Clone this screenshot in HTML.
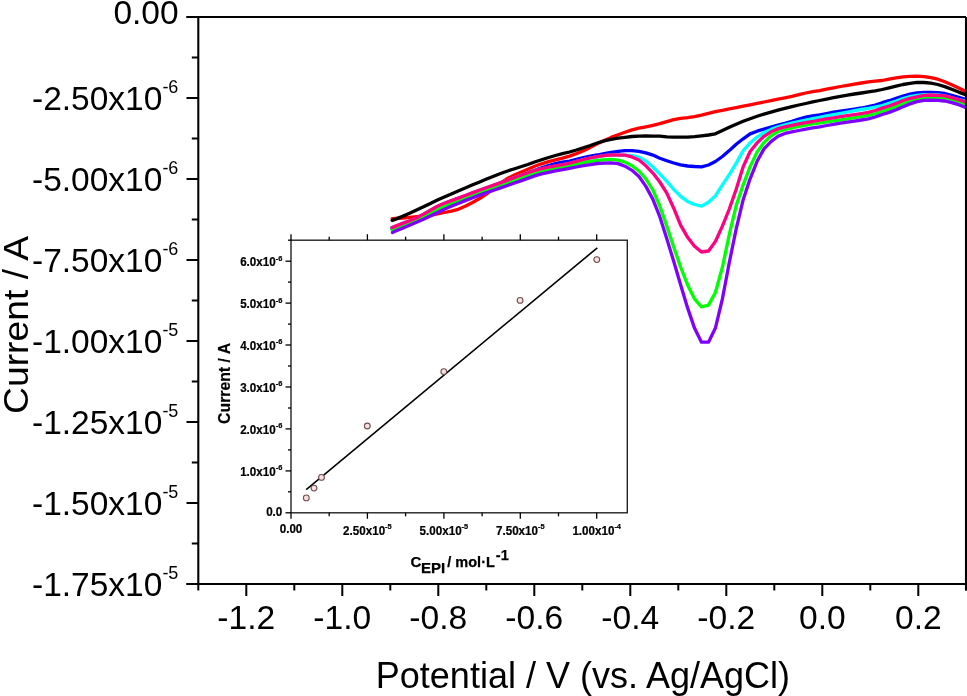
<!DOCTYPE html><html><head><meta charset="utf-8"><style>html,body{margin:0;padding:0;background:#fff;width:967px;height:696px;overflow:hidden}svg{display:block;will-change:transform}text{font-family:"Liberation Sans",sans-serif}</style></head><body>
<svg width="967" height="696" viewBox="0 0 967 696">
<rect width="967" height="696" fill="#fff"/>
<defs><clipPath id="pc"><rect x="198" y="17" width="768" height="567"/></clipPath></defs>
<g clip-path="url(#pc)" fill="none" stroke-width="3.3" stroke-linejoin="round" stroke-linecap="round">
<polyline points="392.2,218.7 395.7,218.5 402.6,218.0 409.6,217.3 416.6,216.7 423.5,216.2 430.4,215.3 437.4,213.8 444.3,212.5 451.3,211.2 458.2,209.3 465.2,206.3 472.1,202.8 479.1,198.8 486.0,194.4 493.0,189.2 499.9,183.6 506.9,178.8 513.9,175.2 520.8,172.2 527.8,169.2 534.7,166.3 541.6,163.8 548.6,161.7 555.5,159.9 562.5,158.1 569.5,156.1 576.4,153.6 583.4,150.8 590.3,147.4 597.2,143.7 604.2,140.4 611.1,137.4 618.1,134.8 625.0,132.3 632.0,129.9 639.0,128.2 645.9,126.8 652.9,125.3 659.8,123.7 666.8,121.7 673.7,119.7 680.6,118.3 687.6,117.6 694.5,116.7 701.5,115.1 708.5,113.3 715.4,111.7 722.4,110.3 729.3,108.9 736.2,107.6 743.2,106.2 750.1,104.8 757.1,103.4 764.0,102.0 771.0,100.6 778.0,99.2 784.9,97.8 791.9,96.3 798.8,94.6 805.8,93.0 812.7,91.7 819.6,90.6 826.6,89.2 833.5,87.8 840.5,86.5 847.5,85.3 854.4,84.1 861.4,83.0 868.3,81.9 875.2,81.2 882.2,80.5 889.1,79.1 896.1,77.9 903.0,76.8 910.0,76.4 917.0,76.2 923.9,76.7 930.9,77.7 937.8,79.2 944.8,81.7 951.7,84.7 958.7,88.0 965.6,91.5 968.0,92.8" stroke="#ff0000"/>
<polyline points="392.2,220.4 395.7,219.1 402.6,216.3 409.6,213.2 416.6,210.0 423.5,206.8 430.4,203.4 437.4,200.0 444.3,196.9 451.3,193.9 458.2,191.0 465.2,188.1 472.1,185.1 479.1,182.2 486.0,179.3 493.0,176.4 499.9,173.7 506.9,171.2 513.9,169.0 520.8,166.8 527.8,164.5 534.7,162.0 541.6,159.7 548.6,157.5 555.5,155.5 562.5,153.7 569.5,152.0 576.4,150.0 583.4,147.8 590.3,145.5 597.2,143.0 604.2,140.9 611.1,139.3 618.1,138.2 625.0,137.3 632.0,136.5 639.0,136.1 645.9,136.0 652.9,136.1 659.8,136.2 666.8,136.8 673.7,137.1 680.6,137.2 687.6,137.1 694.5,136.7 701.5,135.8 708.5,135.0 715.4,133.8 722.4,130.6 729.3,127.3 736.2,124.2 743.2,121.3 750.1,118.7 757.1,116.3 764.0,114.1 771.0,112.1 778.0,110.2 784.9,108.4 791.9,106.7 798.8,105.0 805.8,103.5 812.7,101.9 819.6,100.5 826.6,99.1 833.5,97.7 840.5,96.4 847.5,95.2 854.4,94.0 861.4,93.0 868.3,91.9 875.2,90.8 882.2,89.5 889.1,87.9 896.1,86.2 903.0,84.5 910.0,83.3 917.0,82.4 923.9,82.5 930.9,83.2 937.8,84.5 944.8,86.6 951.7,89.2 958.7,92.1 965.6,94.7 968.0,95.6" stroke="#000000"/>
<polyline points="391.9,228.1 395.7,226.6 402.6,223.9 409.6,221.2 416.6,218.2 423.5,214.6 430.4,210.7 437.4,206.8 444.3,203.7 451.3,201.1 458.2,198.6 465.2,196.0 472.1,193.4 479.1,190.8 486.0,188.3 493.0,185.9 499.9,183.4 506.9,180.9 513.9,178.3 520.8,175.7 527.8,173.0 534.7,170.2 541.6,167.8 548.6,165.6 555.5,163.7 562.5,162.2 569.5,161.1 576.4,159.4 583.4,157.6 590.3,156.2 597.2,155.0 604.2,153.6 611.1,152.3 618.1,151.4 625.0,150.7 632.0,150.7 639.0,151.4 645.9,152.9 652.9,155.1 659.8,158.2 666.8,160.7 673.7,163.0 680.6,164.8 687.6,166.0 694.5,166.5 701.5,166.8 708.5,165.0 715.4,161.5 722.4,156.5 729.3,150.6 736.2,144.2 743.2,138.8 750.1,133.9 757.1,131.2 764.0,129.1 771.0,127.1 778.0,125.2 784.9,123.4 791.9,121.4 798.8,119.0 805.8,117.2 812.7,115.8 819.6,114.8 826.6,113.5 833.5,112.2 840.5,111.1 847.5,110.1 854.4,109.1 861.4,108.0 868.3,106.7 875.2,105.0 882.2,102.7 889.1,100.7 896.1,98.4 903.0,96.0 910.0,94.2 917.0,92.8 923.9,92.3 930.9,92.3 937.8,92.7 944.8,93.5 951.7,95.4 958.7,97.4 965.6,99.3 968.0,100.0" stroke="#0000ff"/>
<polyline points="391.9,227.8 395.7,226.3 402.6,223.6 409.6,220.9 416.6,217.9 423.5,214.3 430.4,210.4 437.4,206.5 444.3,203.4 451.3,200.8 458.2,198.3 465.2,195.7 472.1,193.1 479.1,190.5 486.0,188.0 493.0,185.6 499.9,183.1 506.9,180.6 513.9,177.9 520.8,175.4 527.8,173.0 534.7,170.7 541.6,168.8 548.6,167.3 555.5,166.0 562.5,164.8 569.5,163.3 576.4,161.5 583.4,159.7 590.3,158.1 597.2,156.8 604.2,155.7 611.1,155.2 618.1,155.2 625.0,155.2 632.0,155.7 639.0,157.1 645.9,161.0 652.9,167.0 659.8,173.9 666.8,181.4 673.7,189.3 680.6,196.3 687.6,201.4 694.5,204.5 701.5,206.1 708.5,202.3 715.4,195.9 722.4,184.9 729.3,174.6 736.2,163.1 743.2,150.6 750.1,142.9 757.1,137.1 764.0,132.4 771.0,129.4 778.0,126.9 784.9,124.9 791.9,123.1 798.8,121.5 805.8,120.0 812.7,118.6 819.6,117.3 826.6,115.9 833.5,114.6 840.5,113.3 847.5,112.0 854.4,110.7 861.4,109.5 868.3,108.4 875.2,107.0 882.2,105.5 889.1,103.4 896.1,101.1 903.0,98.6 910.0,96.7 917.0,95.3 923.9,94.7 930.9,94.7 937.8,95.0 944.8,95.8 951.7,97.8 958.7,99.6 965.6,101.2 968.0,101.8" stroke="#00ffff"/>
<polyline points="391.9,229.9 395.7,228.2 402.6,225.3 409.6,222.3 416.6,219.6 423.5,216.7 430.4,213.2 437.4,209.4 444.3,206.2 451.3,203.4 458.2,200.7 465.2,198.1 472.1,195.5 479.1,192.9 486.0,190.4 493.0,188.0 499.9,185.5 506.9,183.1 513.9,180.7 520.8,178.3 527.8,175.8 534.7,173.3 541.6,171.3 548.6,169.7 555.5,168.3 562.5,167.0 569.5,165.6 576.4,164.1 583.4,162.6 590.3,161.4 597.2,160.5 604.2,159.8 611.1,159.4 618.1,160.1 625.0,162.1 632.0,165.7 639.0,171.0 645.9,178.8 652.9,190.0 659.8,206.0 666.8,226.1 673.7,246.9 680.6,267.0 687.6,284.9 694.5,298.8 701.5,306.8 708.5,305.1 715.4,292.5 722.4,267.3 729.3,234.3 736.2,205.6 743.2,184.8 750.1,166.6 757.1,152.0 764.0,142.6 771.0,135.8 778.0,131.5 784.9,129.4 791.9,127.8 798.8,126.4 805.8,125.1 812.7,123.9 819.6,122.9 826.6,121.8 833.5,120.8 840.5,119.8 847.5,118.8 854.4,117.7 861.4,116.6 868.3,115.4 875.2,113.6 882.2,111.1 889.1,109.0 896.1,106.4 903.0,103.2 910.0,100.8 917.0,99.0 923.9,97.6 930.9,97.4 937.8,97.7 944.8,98.4 951.7,99.9 958.7,101.7 965.6,104.1 968.0,105.0" stroke="#00ff00"/>
<polyline points="391.9,227.6 395.7,226.1 402.6,223.4 409.6,220.7 416.6,217.7 423.5,214.1 430.4,210.2 437.4,206.3 444.3,203.2 451.3,200.6 458.2,198.1 465.2,195.5 472.1,192.9 479.1,190.3 486.0,187.8 493.0,185.4 499.9,182.9 506.9,180.4 513.9,177.7 520.8,175.2 527.8,172.8 534.7,170.5 541.6,168.6 548.6,167.1 555.5,165.8 562.5,164.6 569.5,163.1 576.4,161.3 583.4,159.5 590.3,157.9 597.2,156.6 604.2,155.5 611.1,155.0 618.1,155.0 625.0,155.2 632.0,156.9 639.0,160.1 645.9,165.8 652.9,173.1 659.8,182.0 666.8,193.1 673.7,208.2 680.6,225.2 687.6,237.3 694.5,246.3 701.5,252.0 708.5,251.0 715.4,241.5 722.4,226.1 729.3,209.0 736.2,189.2 743.2,166.8 750.1,151.5 757.1,142.9 764.0,136.3 771.0,131.8 778.0,128.7 784.9,126.9 791.9,125.4 798.8,123.9 805.8,122.7 812.7,121.5 819.6,120.1 826.6,118.9 833.5,117.8 840.5,116.7 847.5,115.7 854.4,114.7 861.4,113.6 868.3,112.4 875.2,110.5 882.2,108.1 889.1,106.0 896.1,103.4 903.0,100.5 910.0,98.4 917.0,96.9 923.9,95.3 930.9,95.0 937.8,95.3 944.8,95.9 951.7,97.7 958.7,99.6 965.6,101.9 968.0,102.8" stroke="#ff0080"/>
<polyline points="392.5,232.5 395.7,231.1 402.6,228.2 409.6,225.2 416.6,222.2 423.5,219.2 430.4,215.9 437.4,212.4 444.3,209.2 451.3,206.3 458.2,203.4 465.2,200.6 472.1,198.0 479.1,195.4 486.0,192.9 493.0,190.5 499.9,188.1 506.9,185.7 513.9,183.3 520.8,180.9 527.8,178.4 534.7,175.9 541.6,173.9 548.6,172.3 555.5,170.9 562.5,169.6 569.5,168.3 576.4,167.0 583.4,165.7 590.3,164.6 597.2,163.5 604.2,163.1 611.1,162.9 618.1,163.6 625.0,166.2 632.0,170.3 639.0,176.5 645.9,186.4 652.9,199.4 659.8,216.7 666.8,238.7 673.7,261.3 680.6,284.8 687.6,307.9 694.5,328.1 701.5,342.2 708.5,342.2 715.4,328.1 722.4,298.9 729.3,262.5 736.2,228.9 743.2,199.7 750.1,178.8 757.1,161.3 764.0,148.9 771.0,141.6 778.0,136.3 784.9,133.4 791.9,131.9 798.8,130.5 805.8,129.1 812.7,127.9 819.6,126.8 826.6,125.5 833.5,124.3 840.5,123.2 847.5,122.2 854.4,121.1 861.4,120.0 868.3,118.8 875.2,117.0 882.2,114.5 889.1,112.4 896.1,109.8 903.0,106.7 910.0,103.9 917.0,101.6 923.9,100.4 930.9,100.2 937.8,100.4 944.8,101.0 951.7,102.6 958.7,104.7 965.6,107.4 968.0,108.5" stroke="#8000ff"/>
</g>
<path d="M186.5,17 H966 M198.3,17 V584 M186.5,584 H966 M966,17 V590.5" stroke="#000" stroke-width="2.1" fill="none"/>
<line x1="186.5" y1="17.0" x2="198.3" y2="17.0" stroke="#000" stroke-width="2"/>
<line x1="191.8" y1="57.5" x2="198.3" y2="57.5" stroke="#000" stroke-width="2"/>
<line x1="186.5" y1="98.0" x2="198.3" y2="98.0" stroke="#000" stroke-width="2"/>
<line x1="191.8" y1="138.5" x2="198.3" y2="138.5" stroke="#000" stroke-width="2"/>
<line x1="186.5" y1="179.0" x2="198.3" y2="179.0" stroke="#000" stroke-width="2"/>
<line x1="191.8" y1="219.5" x2="198.3" y2="219.5" stroke="#000" stroke-width="2"/>
<line x1="186.5" y1="260.0" x2="198.3" y2="260.0" stroke="#000" stroke-width="2"/>
<line x1="191.8" y1="300.5" x2="198.3" y2="300.5" stroke="#000" stroke-width="2"/>
<line x1="186.5" y1="341.0" x2="198.3" y2="341.0" stroke="#000" stroke-width="2"/>
<line x1="191.8" y1="381.5" x2="198.3" y2="381.5" stroke="#000" stroke-width="2"/>
<line x1="186.5" y1="422.0" x2="198.3" y2="422.0" stroke="#000" stroke-width="2"/>
<line x1="191.8" y1="462.5" x2="198.3" y2="462.5" stroke="#000" stroke-width="2"/>
<line x1="186.5" y1="503.0" x2="198.3" y2="503.0" stroke="#000" stroke-width="2"/>
<line x1="191.8" y1="543.5" x2="198.3" y2="543.5" stroke="#000" stroke-width="2"/>
<line x1="186.5" y1="584.0" x2="198.3" y2="584.0" stroke="#000" stroke-width="2"/>
<line x1="198.3" y1="584" x2="198.3" y2="590.5" stroke="#000" stroke-width="2"/>
<line x1="246.3" y1="584" x2="246.3" y2="596.0" stroke="#000" stroke-width="2"/>
<line x1="294.3" y1="584" x2="294.3" y2="590.5" stroke="#000" stroke-width="2"/>
<line x1="342.3" y1="584" x2="342.3" y2="596.0" stroke="#000" stroke-width="2"/>
<line x1="390.3" y1="584" x2="390.3" y2="590.5" stroke="#000" stroke-width="2"/>
<line x1="438.3" y1="584" x2="438.3" y2="596.0" stroke="#000" stroke-width="2"/>
<line x1="486.3" y1="584" x2="486.3" y2="590.5" stroke="#000" stroke-width="2"/>
<line x1="534.3" y1="584" x2="534.3" y2="596.0" stroke="#000" stroke-width="2"/>
<line x1="582.3" y1="584" x2="582.3" y2="590.5" stroke="#000" stroke-width="2"/>
<line x1="630.3" y1="584" x2="630.3" y2="596.0" stroke="#000" stroke-width="2"/>
<line x1="678.3" y1="584" x2="678.3" y2="590.5" stroke="#000" stroke-width="2"/>
<line x1="726.3" y1="584" x2="726.3" y2="596.0" stroke="#000" stroke-width="2"/>
<line x1="774.3" y1="584" x2="774.3" y2="590.5" stroke="#000" stroke-width="2"/>
<line x1="822.3" y1="584" x2="822.3" y2="596.0" stroke="#000" stroke-width="2"/>
<line x1="870.3" y1="584" x2="870.3" y2="590.5" stroke="#000" stroke-width="2"/>
<line x1="918.3" y1="584" x2="918.3" y2="596.0" stroke="#000" stroke-width="2"/>
<line x1="966.3" y1="584" x2="966.3" y2="590.5" stroke="#000" stroke-width="2"/>
<text x="246.3" y="629" font-size="33.6" text-anchor="middle">-1.2</text>
<text x="342.3" y="629" font-size="33.6" text-anchor="middle">-1.0</text>
<text x="438.3" y="629" font-size="33.6" text-anchor="middle">-0.8</text>
<text x="534.3" y="629" font-size="33.6" text-anchor="middle">-0.6</text>
<text x="630.3" y="629" font-size="33.6" text-anchor="middle">-0.4</text>
<text x="726.3" y="629" font-size="33.6" text-anchor="middle">-0.2</text>
<text x="822.3" y="629" font-size="33.6" text-anchor="middle">0.0</text>
<text x="918.3" y="629" font-size="33.6" text-anchor="middle">0.2</text>
<text x="178.6" y="23.6" font-size="33.5" text-anchor="end">0.00</text>
<text x="178.4" y="110.0" font-size="33.5" text-anchor="end">-2.50x10<tspan font-size="18" dy="-17">-6</tspan></text>
<text x="178.4" y="191.0" font-size="33.5" text-anchor="end">-5.00x10<tspan font-size="18" dy="-17">-6</tspan></text>
<text x="178.4" y="272.0" font-size="33.5" text-anchor="end">-7.50x10<tspan font-size="18" dy="-17">-6</tspan></text>
<text x="178.4" y="353.0" font-size="33.5" text-anchor="end">-1.00x10<tspan font-size="18" dy="-17">-5</tspan></text>
<text x="178.4" y="434.0" font-size="33.5" text-anchor="end">-1.25x10<tspan font-size="18" dy="-17">-5</tspan></text>
<text x="178.4" y="515.0" font-size="33.5" text-anchor="end">-1.50x10<tspan font-size="18" dy="-17">-5</tspan></text>
<text x="178.4" y="596.0" font-size="33.5" text-anchor="end">-1.75x10<tspan font-size="18" dy="-17">-5</tspan></text>
<text x="582.9" y="687.5" font-size="36" text-anchor="middle">Potential / V (vs. Ag/AgCl)</text>
<text transform="translate(27.5,324.9) rotate(-90) scale(1.035,1)" font-size="36" text-anchor="middle">Current / A</text>
<rect x="291.0" y="240.2" width="336.3" height="272.6" fill="#fff" stroke="#222" stroke-width="1.4"/>
<line x1="285.5" y1="512.8" x2="291.0" y2="512.8" stroke="#000" stroke-width="1.3"/>
<line x1="288.0" y1="491.8" x2="291.0" y2="491.8" stroke="#000" stroke-width="1.3"/>
<line x1="285.5" y1="470.9" x2="291.0" y2="470.9" stroke="#000" stroke-width="1.3"/>
<line x1="288.0" y1="449.9" x2="291.0" y2="449.9" stroke="#000" stroke-width="1.3"/>
<line x1="285.5" y1="428.9" x2="291.0" y2="428.9" stroke="#000" stroke-width="1.3"/>
<line x1="288.0" y1="408.0" x2="291.0" y2="408.0" stroke="#000" stroke-width="1.3"/>
<line x1="285.5" y1="387.0" x2="291.0" y2="387.0" stroke="#000" stroke-width="1.3"/>
<line x1="288.0" y1="366.0" x2="291.0" y2="366.0" stroke="#000" stroke-width="1.3"/>
<line x1="285.5" y1="345.0" x2="291.0" y2="345.0" stroke="#000" stroke-width="1.3"/>
<line x1="288.0" y1="324.1" x2="291.0" y2="324.1" stroke="#000" stroke-width="1.3"/>
<line x1="285.5" y1="303.1" x2="291.0" y2="303.1" stroke="#000" stroke-width="1.3"/>
<line x1="288.0" y1="282.1" x2="291.0" y2="282.1" stroke="#000" stroke-width="1.3"/>
<line x1="285.5" y1="261.2" x2="291.0" y2="261.2" stroke="#000" stroke-width="1.3"/>
<line x1="288.0" y1="240.2" x2="291.0" y2="240.2" stroke="#000" stroke-width="1.3"/>
<line x1="291.0" y1="512.8" x2="291.0" y2="518.8" stroke="#000" stroke-width="1.3"/>
<line x1="291.0" y1="240.2" x2="291.0" y2="234.2" stroke="#000" stroke-width="1.3"/>
<line x1="329.2" y1="512.8" x2="329.2" y2="516.3" stroke="#000" stroke-width="1.3"/>
<line x1="329.2" y1="240.2" x2="329.2" y2="236.7" stroke="#000" stroke-width="1.3"/>
<line x1="367.4" y1="512.8" x2="367.4" y2="518.8" stroke="#000" stroke-width="1.3"/>
<line x1="367.4" y1="240.2" x2="367.4" y2="234.2" stroke="#000" stroke-width="1.3"/>
<line x1="405.6" y1="512.8" x2="405.6" y2="516.3" stroke="#000" stroke-width="1.3"/>
<line x1="405.6" y1="240.2" x2="405.6" y2="236.7" stroke="#000" stroke-width="1.3"/>
<line x1="443.9" y1="512.8" x2="443.9" y2="518.8" stroke="#000" stroke-width="1.3"/>
<line x1="443.9" y1="240.2" x2="443.9" y2="234.2" stroke="#000" stroke-width="1.3"/>
<line x1="482.1" y1="512.8" x2="482.1" y2="516.3" stroke="#000" stroke-width="1.3"/>
<line x1="482.1" y1="240.2" x2="482.1" y2="236.7" stroke="#000" stroke-width="1.3"/>
<line x1="520.3" y1="512.8" x2="520.3" y2="518.8" stroke="#000" stroke-width="1.3"/>
<line x1="520.3" y1="240.2" x2="520.3" y2="234.2" stroke="#000" stroke-width="1.3"/>
<line x1="558.5" y1="512.8" x2="558.5" y2="516.3" stroke="#000" stroke-width="1.3"/>
<line x1="558.5" y1="240.2" x2="558.5" y2="236.7" stroke="#000" stroke-width="1.3"/>
<line x1="596.7" y1="512.8" x2="596.7" y2="518.8" stroke="#000" stroke-width="1.3"/>
<line x1="596.7" y1="240.2" x2="596.7" y2="234.2" stroke="#000" stroke-width="1.3"/>
<text transform="translate(282.3,515.5) scale(0.93,1)" font-size="12.5" font-weight="bold" stroke="#000" stroke-width="0.22" text-anchor="end">0.0</text>
<text transform="translate(282.3,475.9) scale(0.93,1)" font-size="12.5" font-weight="bold" stroke="#000" stroke-width="0.22" text-anchor="end">1.0x10<tspan font-size="8" dy="-5.6">-6</tspan></text>
<text transform="translate(282.3,433.9) scale(0.93,1)" font-size="12.5" font-weight="bold" stroke="#000" stroke-width="0.22" text-anchor="end">2.0x10<tspan font-size="8" dy="-5.6">-6</tspan></text>
<text transform="translate(282.3,392.0) scale(0.93,1)" font-size="12.5" font-weight="bold" stroke="#000" stroke-width="0.22" text-anchor="end">3.0x10<tspan font-size="8" dy="-5.6">-6</tspan></text>
<text transform="translate(282.3,350.0) scale(0.93,1)" font-size="12.5" font-weight="bold" stroke="#000" stroke-width="0.22" text-anchor="end">4.0x10<tspan font-size="8" dy="-5.6">-6</tspan></text>
<text transform="translate(282.3,308.1) scale(0.93,1)" font-size="12.5" font-weight="bold" stroke="#000" stroke-width="0.22" text-anchor="end">5.0x10<tspan font-size="8" dy="-5.6">-6</tspan></text>
<text transform="translate(282.3,266.2) scale(0.93,1)" font-size="12.5" font-weight="bold" stroke="#000" stroke-width="0.22" text-anchor="end">6.0x10<tspan font-size="8" dy="-5.6">-6</tspan></text>
<text transform="translate(291.0,532.6) scale(0.93,1)" font-size="12.5" font-weight="bold" stroke="#000" stroke-width="0.22" text-anchor="middle">0.00</text>
<text transform="translate(367.4,535.0) scale(0.93,1)" font-size="12.5" font-weight="bold" stroke="#000" stroke-width="0.22" text-anchor="middle">2.50x10<tspan font-size="8" dy="-5.6">-5</tspan></text>
<text transform="translate(443.9,535.0) scale(0.93,1)" font-size="12.5" font-weight="bold" stroke="#000" stroke-width="0.22" text-anchor="middle">5.00x10<tspan font-size="8" dy="-5.6">-5</tspan></text>
<text transform="translate(520.3,535.0) scale(0.93,1)" font-size="12.5" font-weight="bold" stroke="#000" stroke-width="0.22" text-anchor="middle">7.50x10<tspan font-size="8" dy="-5.6">-5</tspan></text>
<text transform="translate(596.7,535.0) scale(0.93,1)" font-size="12.5" font-weight="bold" stroke="#000" stroke-width="0.22" text-anchor="middle">1.00x10<tspan font-size="8" dy="-5.6">-4</tspan></text>
<text x="410.6" y="567.4" font-size="15" font-weight="bold" stroke="#000" stroke-width="0.25">C</text>
<text x="421.0" y="572.5" font-size="15" font-weight="bold" stroke="#000" stroke-width="0.25">EPI</text>
<text x="447.3" y="567.4" font-size="14.5" font-weight="bold" stroke="#000" stroke-width="0.25">/ mol·L</text>
<text x="495.8" y="560.3" font-size="14.5" font-weight="bold" stroke="#000" stroke-width="0.25">-1</text>
<text transform="translate(230.1,383.4) rotate(-90)" font-size="15.8" font-weight="bold" stroke="#000" stroke-width="0.2" text-anchor="middle">Current / A</text>
<line x1="306.2" y1="489.6" x2="597.3" y2="247.8" stroke="#000" stroke-width="1.6"/>
<circle cx="306.3" cy="497.9" r="2.9" fill="#f8dede" stroke="#705050" stroke-width="1.1"/>
<circle cx="314.0" cy="488.1" r="2.9" fill="#f8dede" stroke="#705050" stroke-width="1.1"/>
<circle cx="321.5" cy="477.4" r="2.9" fill="#f8dede" stroke="#705050" stroke-width="1.1"/>
<circle cx="367.3" cy="426.0" r="2.9" fill="#f8dede" stroke="#705050" stroke-width="1.1"/>
<circle cx="443.8" cy="371.6" r="2.9" fill="#f8dede" stroke="#705050" stroke-width="1.1"/>
<circle cx="520.1" cy="300.4" r="2.9" fill="#f8dede" stroke="#705050" stroke-width="1.1"/>
<circle cx="596.8" cy="259.6" r="2.9" fill="#f8dede" stroke="#705050" stroke-width="1.1"/>
</svg></body></html>
